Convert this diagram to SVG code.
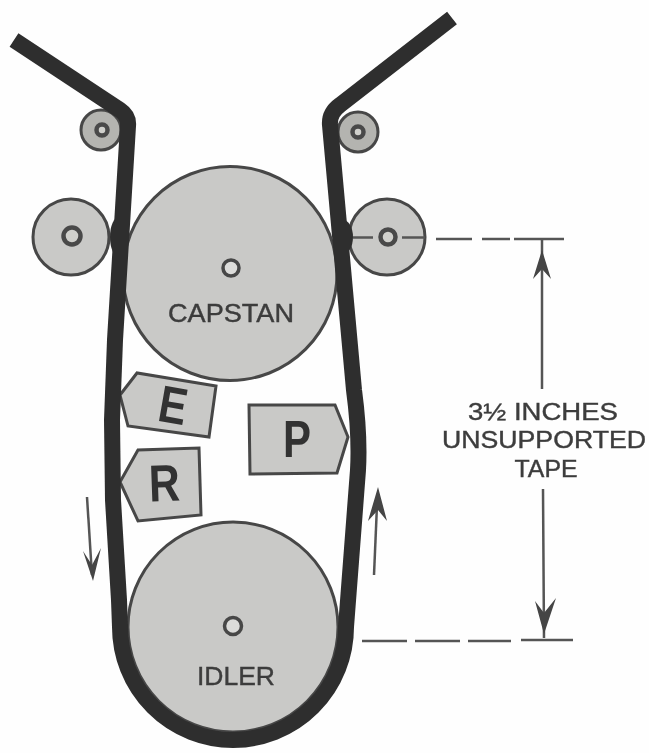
<svg xmlns="http://www.w3.org/2000/svg" width="649" height="753" viewBox="0 0 649 753">
<style>
.disc{fill:#c9c9c7;stroke:#474747;stroke-width:3}
.small{fill:#b4b4b0}
.hub{fill:#dcdcda;stroke:#474747;stroke-width:3.5}
.ring{fill:#d0d0cc;stroke:#4a4a4a;stroke-width:4.5}
.head{fill:#c9c9c7;stroke:#474747;stroke-width:3;stroke-linejoin:miter}
.tape{fill:none;stroke:#2e2e2e;stroke-width:16;stroke-linejoin:round}
.nip{fill:#2e2e2e}
.dim{fill:none;stroke:#555;stroke-width:2.5}
.arrow{fill:#444;stroke:none}
.label{font-family:"Liberation Sans",Arial,sans-serif;fill:#3c3c3c;stroke:#3c3c3c;stroke-width:0.4;text-anchor:middle}
.big{font-family:"Liberation Sans",Arial,sans-serif;font-weight:bold;fill:#333;font-size:52px;text-anchor:middle}
</style>
<defs><filter id="soft" x="-5%" y="-5%" width="110%" height="110%"><feGaussianBlur stdDeviation="0.6"/></filter></defs>
<rect width="649" height="753" fill="#fefefe"/>
<g filter="url(#soft)">
<g id="roller-top-left"><circle class="disc small" cx="101" cy="130" r="20"/><circle class="ring" cx="102" cy="130" r="5.5"/></g>
<g id="roller-top-right"><circle class="disc small" cx="358" cy="132" r="20"/><circle class="ring" cx="358" cy="132" r="5.5"/></g>
<g id="roller-left"><circle class="disc" cx="71" cy="237" r="38"/><circle class="ring" cx="72" cy="236" r="8.5"/></g>
<g id="roller-right"><circle class="disc" cx="387" cy="237" r="38"/><circle class="ring" cx="388" cy="237" r="7.5"/></g>
<g id="capstan"><circle class="disc" cx="230" cy="273.5" r="107"/><circle class="hub" cx="231" cy="268" r="8"/><text class="label" x="231" y="322" font-size="25" textLength="126" lengthAdjust="spacingAndGlyphs">CAPSTAN</text></g>
<g id="idler"><circle class="disc" cx="233" cy="627" r="105"/><circle class="hub" cx="233" cy="626" r="8.5"/><text class="label" x="236" y="685" font-size="25" textLength="78" lengthAdjust="spacingAndGlyphs">IDLER</text></g>
<g id="head-e"><polygon class="head" points="120,395 137,373 216,386 209,437 128,426"/><text class="big" transform="translate(170,423) rotate(10)" textLength="28" lengthAdjust="spacingAndGlyphs">E</text></g>
<g id="head-r"><polygon class="head" points="120,482 138,450 199,448 201,515 138,521"/><text class="big" transform="translate(165,501) rotate(-2)" textLength="31" lengthAdjust="spacingAndGlyphs">R</text></g>
<g id="head-p"><polygon class="head" points="249,405 335,405 348,437 337,473 250,474"/><text class="big" x="297" y="457" textLength="28" lengthAdjust="spacingAndGlyphs">P</text></g>
<g id="connectors">
<path id="tape" class="tape" d="M14,40 L120,110 Q129,116 128,126 L115,340 L112,420 L113,500 L119,600 L120,627 A113,113 0 0 0 346,627 L358,470 Q360,435 354,390 L330,125 Q329,113 340,105 L452,18"/>
<ellipse class="nip" cx="343" cy="237" rx="10" ry="17"/>
<ellipse class="nip" cx="119" cy="237" rx="9" ry="20"/>
<path class="dim" d="M353,237.5H373M402,237.5H425M436,239H472M482,239H510M514,239H564"/>
<path class="dim" d="M362,641H407M415,641H460M468,641H511M521,640H573"/>
<path class="dim" d="M542,240V389M543,489L544,638"/>
<polygon class="arrow" points="542,250 551,279 542,269 533,279"/>
<polygon class="arrow" points="544,634 535,601 544,613 556,598"/>
<path class="dim" d="M87,497L92,575" stroke-width="2"/>
<polygon class="arrow" points="93,581 83,551 92,565 101,548"/>
<path class="dim" d="M374,575L377,505"/>
<polygon class="arrow" points="378,487 387,521 378,510 368,521"/>
</g>
</g>
<g id="dimension-label" filter="url(#soft)">
<text class="label" x="543" y="420" font-size="23.5" textLength="150" lengthAdjust="spacingAndGlyphs">3½ INCHES</text>
<text class="label" x="544" y="448" font-size="23.5" textLength="204" lengthAdjust="spacingAndGlyphs">UNSUPPORTED</text>
<text class="label" x="546" y="477" font-size="23.5" textLength="63" lengthAdjust="spacingAndGlyphs">TAPE</text>
</g>
</svg>
